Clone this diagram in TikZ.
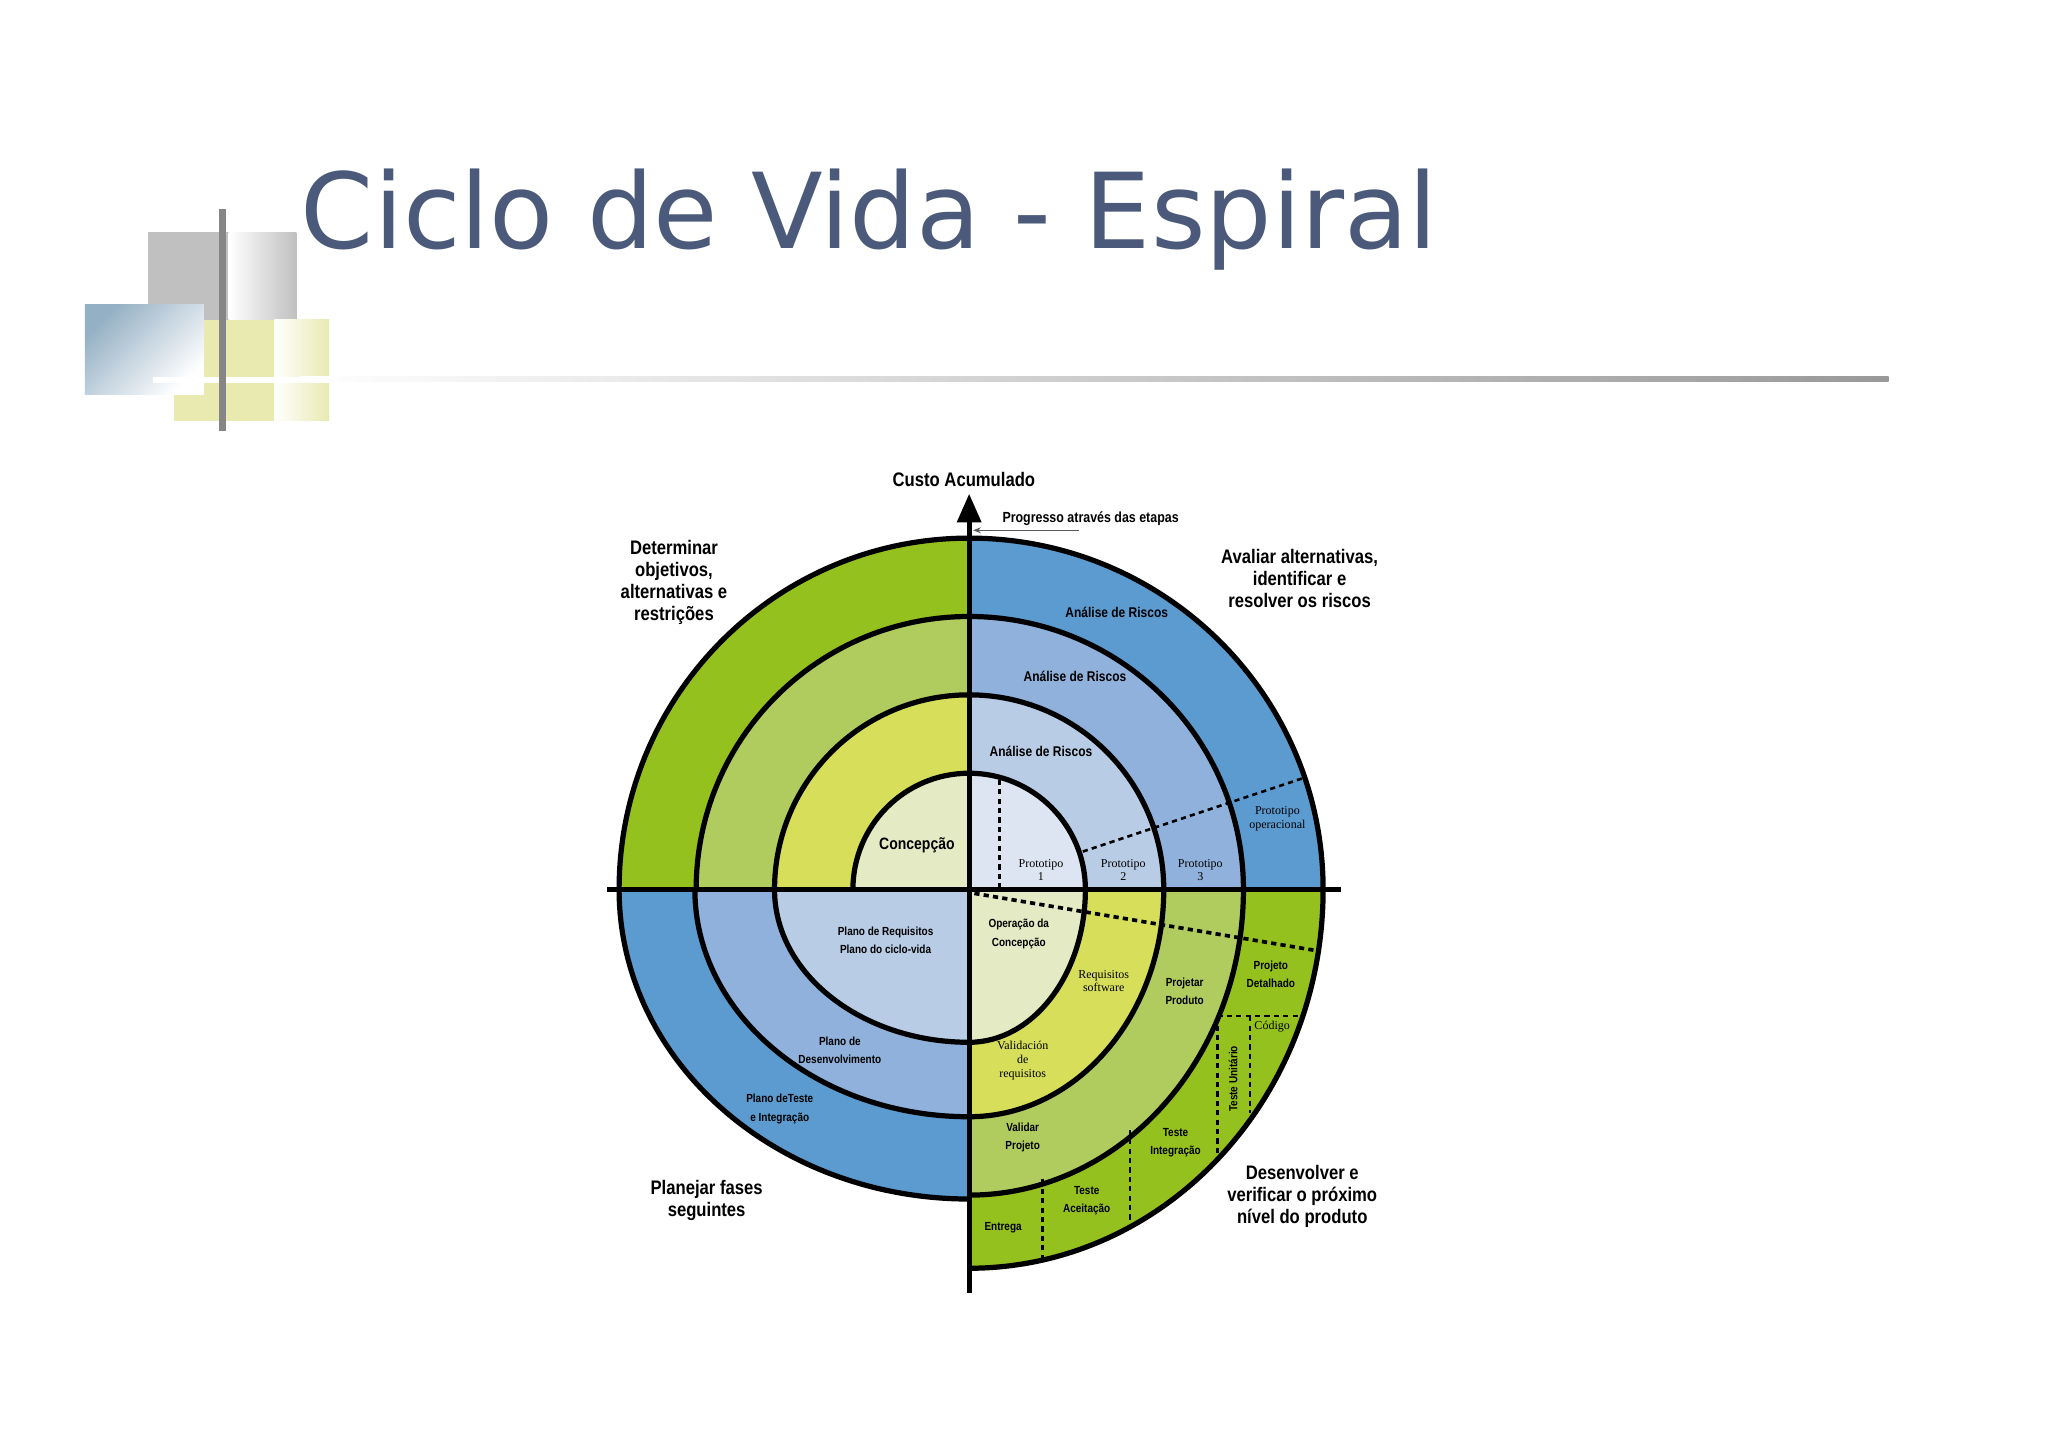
\documentclass[tikz,border=0pt]{standalone}
\usepackage{fontspec}
\usetikzlibrary{arrows.meta}
\setmainfont{Liberation Serif}
\newfontfamily\titlefont{DejaVu Sans}
\newfontfamily\labfont[FakeStretch=0.85]{Liberation Sans}
\newfontfamily\serfont{Liberation Serif}
\definecolor{titleblue}{HTML}{4B5A7A}
\definecolor{logoblue}{HTML}{94B0C4}
\definecolor{logoyel}{HTML}{E8EAB0}
\definecolor{logogray}{HTML}{C0C0C0}
\definecolor{gA}{HTML}{95C11F}
\definecolor{gB}{HTML}{B0CC5E}
\definecolor{gC}{HTML}{D6DE5A}
\definecolor{gD}{HTML}{E4EBC4}
\definecolor{bA}{HTML}{5B9BD0}
\definecolor{bB}{HTML}{8FB1DB}
\definecolor{bC}{HTML}{B8CCE6}
\definecolor{bD}{HTML}{DDE5F2}
\tikzset{
  big/.style={font=\labfont\bfseries\fontsize{7.5}{8.5}\selectfont, align=center, inner sep=0},
  sml/.style={font=\labfont\bfseries\fontsize{5.4}{6.4}\selectfont, align=center, inner sep=0},
  tiny/.style={font=\labfont\bfseries\fontsize{4.5}{7}\selectfont, align=center, inner sep=0},
  ser/.style={font=\serfont\fontsize{4.6}{5.2}\selectfont, align=center, inner sep=0},
  spir/.style={line width=2pt},
  dsh/.style={line width=1pt, dash pattern=on 2pt off 1.6pt},
}
\begin{document}
\begin{tikzpicture}[x=0.5pt,y=-0.5pt]
\useasboundingbox (0,0) rectangle (1568,1107);
\fill[white] (0,0) rectangle (1568,1107);
% logo
\fill[logogray] (113,178) rectangle (175,245);
\shade[left color=white, right color=logogray] (175,178) rectangle (227,245);
\fill[logoyel] (133,245) rectangle (210,322);
\shade[left color=white, right color=logoyel] (210,245) rectangle (252,322);
\shade[left color=logoblue, right color=white, shading angle=45] (65,233) rectangle (156,302);
\fill[white] (117,289) rectangle (252,293);
\fill[gray!95] (168,160) rectangle (173,330);
\shade[left color=white, right color=gray!80] (230,288) rectangle (1446,292);
% title
\node[anchor=base west, inner sep=0, text=titleblue] (title) at (230,190)
  {\resizebox{435pt}{!}{\titlefont Ciclo de Vida - Espiral}};
% spiral fills
\begin{scope}[shift={(742,681)}, yscale=-1]
\foreach \a/\b/\c in {268/269/gA,209/209/gB,149/149/gC,89/89/gD}
  \fill[\c] (0,0) -- (-\a,0) arc[start angle=180,end angle=90,x radius=\a,y radius=\b] -- cycle;
\foreach \a/\b/\c in {271/269/bA,210/209/bB,149/149/bC,89/89/bD}
  \fill[\c] (0,0) -- (0,\b) arc[start angle=90,end angle=0,x radius=\a,y radius=\b] -- cycle;
\foreach \a/\b/\c in {271/290/gA,210/234/gB,149/174/gC,89/117/gD}
  \fill[\c] (0,0) -- (\a,0) arc[start angle=0,end angle=-90,x radius=\a,y radius=\b] -- cycle;
\foreach \a/\b/\c in {268/237/bA,210/174/bB,149/117/bC}
  \fill[\c] (0,0) -- (0,-\b) arc[start angle=270,end angle=180,x radius=\a,y radius=\b] -- cycle;
% spiral outline
\foreach \a/\b in {268/269,209/209,149/149,89/89}
  \draw[spir] (-\a,0) arc[start angle=180,end angle=90,x radius=\a,y radius=\b];
\foreach \a/\b in {271/269,210/209,149/149,89/89}
  \draw[spir] (0,\b) arc[start angle=90,end angle=0,x radius=\a,y radius=\b];
\foreach \a/\b in {271/290,210/234,149/174,89/117}
  \draw[spir] (\a,0) arc[start angle=0,end angle=-90,x radius=\a,y radius=\b];
\foreach \a/\b in {268/237,210/174,149/117}
  \draw[spir] (0,-\b) arc[start angle=270,end angle=180,x radius=\a,y radius=\b];
\end{scope}
% dashed lines
\coordinate (d1a) at (765,597); \coordinate (d1b) at (765,679);
\draw[dsh] (d1a) -- (d1b);
\coordinate (d2a) at (829,652); \coordinate (d2b) at (1000,595);
\draw[dsh] (d2a) -- (d2b);
\coordinate (d3a) at (746,684); \coordinate (d3b) at (1009,728);
\draw[dsh, line width=1.4pt] (d3a) -- (d3b);
\coordinate (d4a) at (932,778); \coordinate (d4b) at (996,778);
\draw[dsh] (d4a) -- (d4b);
\coordinate (d5b) at (932,886);
\draw[dsh] (d4a) -- (d5b);
\coordinate (d6a) at (957,778); \coordinate (d6b) at (957,852);
\draw[dsh] (d6a) -- (d6b);
\coordinate (d7a) at (865,865); \coordinate (d7b) at (865,937);
\draw[dsh] (d7a) -- (d7b);
\coordinate (d8a) at (798,903); \coordinate (d8b) at (798,965);
\draw[dsh] (d8a) -- (d8b);
% axes
\coordinate (hl) at (465,681); \coordinate (hr) at (1027,681);
\draw[line width=2pt] (hl) -- (hr);
\coordinate (vb) at (742,990); \coordinate (vt) at (742,378);
\draw[line width=2pt, -{Triangle[length=11pt,width=9pt]}] (vb) -- (vt);
\node[big] (custo) at (738,367) {Custo Acumulado};
\node[sml, font=\labfont\bfseries\fontsize{5.6}{6}\selectfont] (prog) at (835,397) {Progresso através das etapas};
\coordinate (pa) at (826,406); \coordinate (pb) at (745,406);
\draw[line width=0.5pt, -{Stealth[length=3pt]}, gray!70!black] (pa) -- (pb);
% big labels
\node[big] (q1) at (516,446) {Determinar\\objetivos,\\alternativas e\\restrições};
\node[big] (q2) at (995,443) {Avaliar alternativas,\\identificar e\\resolver os riscos};
\node[big] (q3) at (541,919) {Planejar fases\\seguintes};
\node[big] (q4) at (997,916) {Desenvolver e\\verificar o próximo\\nível do produto};
% small labels
\node[sml] (r1) at (855,469) {Análise de Riscos};
\node[sml] (r2) at (823,518) {Análise de Riscos};
\node[sml] (r3) at (797,575) {Análise de Riscos};
\node[sml, font=\labfont\bfseries\fontsize{6.3}{7}\selectfont] (conc) at (702,647) {Concepção};
\node[ser] (p1) at (797,666) {Prototipo\\1};
\node[ser] (p2) at (860,666) {Prototipo\\2};
\node[ser] (p3) at (919,666) {Prototipo\\3};
\node[ser] (p4) at (978,627) {Prototipo\\operacional};
\node[tiny] (plr) at (678,720) {Plano de Requisitos\\Plano do ciclo-vida};
\node[tiny] (opc) at (780,715) {Operação da\\Concepção};
\node[ser] (rsw) at (845,751) {Requisitos\\software};
\node[tiny] (pp) at (907,759) {Projetar\\Produto};
\node[tiny] (pd) at (973,746) {Projeto\\Detalhado};
\node[ser] (cod) at (974,786) {Código};
\node[tiny, rotate=90] (tu) at (944,826) {Teste Unitário};
\node[ser] (vr) at (783,812) {Validación\\de\\requisitos};
\node[tiny] (pdv) at (643,804) {Plano de\\Desenvolvimento};
\node[tiny] (pti) at (597,849) {Plano deTeste\\e Integração};
\node[tiny] (vp) at (783,871) {Validar\\Projeto};
\node[tiny] (ti) at (900,875) {Teste\\Integração};
\node[tiny] (ta) at (832,919) {Teste\\Aceitação};
\node[tiny] (ent) at (768,940) {Entrega};
\end{tikzpicture}
\end{document}
